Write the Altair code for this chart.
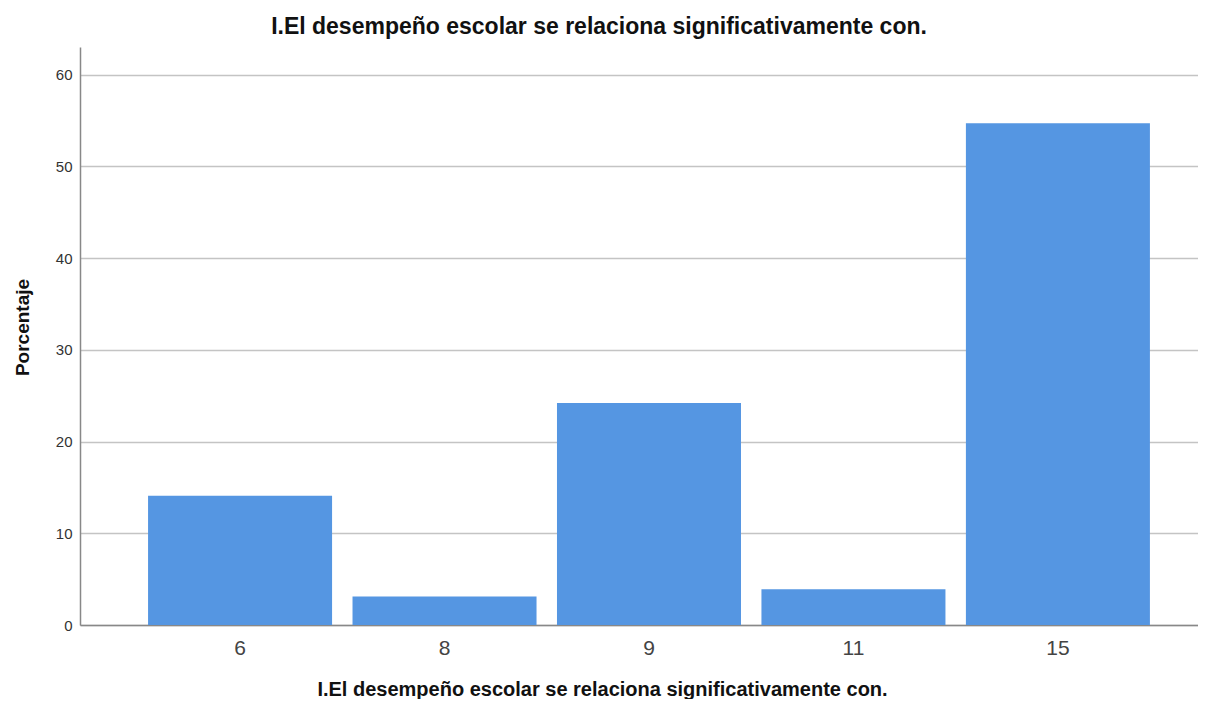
import altair as alt
import pandas as pd

categories = ["6", "8", "9", "11", "15"]
percentages = [14.1, 3.1, 24.2, 3.9, 54.7]
y_ticks = [0, 10, 20, 30, 40, 50, 60]

title_text = "I.El desempeño escolar se relaciona significativamente con."

df = pd.DataFrame({"cat": categories, "pct": percentages})

chart = (
    alt.Chart(df, view=alt.ViewBackground(strokeWidth=0, strokeOpacity=0))
    .mark_bar(color="#5596e2")
    .encode(
        x=alt.X(
            "cat:N",
            sort=categories,
            scale=alt.Scale(paddingInner=0.1, paddingOuter=0.284, align=0.586),
            axis=alt.Axis(
                title=title_text,
                titleFont="Liberation Sans",
                titleFontSize=20,
                titleFontWeight="bold",
                titleColor="#111111",
                titleX=522,
                titleY=70,
                titleAlign="center",
                titleBaseline="alphabetic",
                labelFont="Liberation Sans",
                labelFontSize=21,
                labelColor="#444444",
                labelAngle=0,
                labelPadding=12,
                ticks=False,
                domainColor="#888888",
                domainWidth=1.5,
                grid=False,
            ),
        ),
        y=alt.Y(
            "pct:Q",
            scale=alt.Scale(domain=[0, 63], nice=False),
            axis=alt.Axis(
                title="Porcentaje",
                titleFont="Liberation Sans",
                titleFontSize=19,
                titleFontWeight="bold",
                titleColor="#111111",
                titleAngle=270,
                titleX=-58,
                titleY=280,
                titleAlign="center",
                titleBaseline="middle",
                values=y_ticks,
                labelFont="Liberation Sans",
                labelFontSize=15,
                labelColor="#333333",
                labelPadding=8,
                ticks=False,
                domainColor="#888888",
                domainWidth=1.5,
                grid=True,
                gridColor="#c4c4c4",
                gridWidth=1.5,
            ),
        ),
    )
    .properties(
        width=1118,
        height=578,
        title=alt.TitleParams(
            text=title_text,
            font="Liberation Sans",
            fontSize=23,
            fontWeight="bold",
            color="#111111",
            anchor="middle",
            dx=-40,
            offset=8,
        ),
        autosize=alt.AutoSizeParams(type="none"),
        padding={"left": 72, "top": 39, "right": 0, "bottom": 74},
    )
    .configure_view(strokeWidth=0, strokeOpacity=0)
    .configure(background="white")
)

chart.save("out.html", embed_options={"renderer": "svg", "actions": False})
